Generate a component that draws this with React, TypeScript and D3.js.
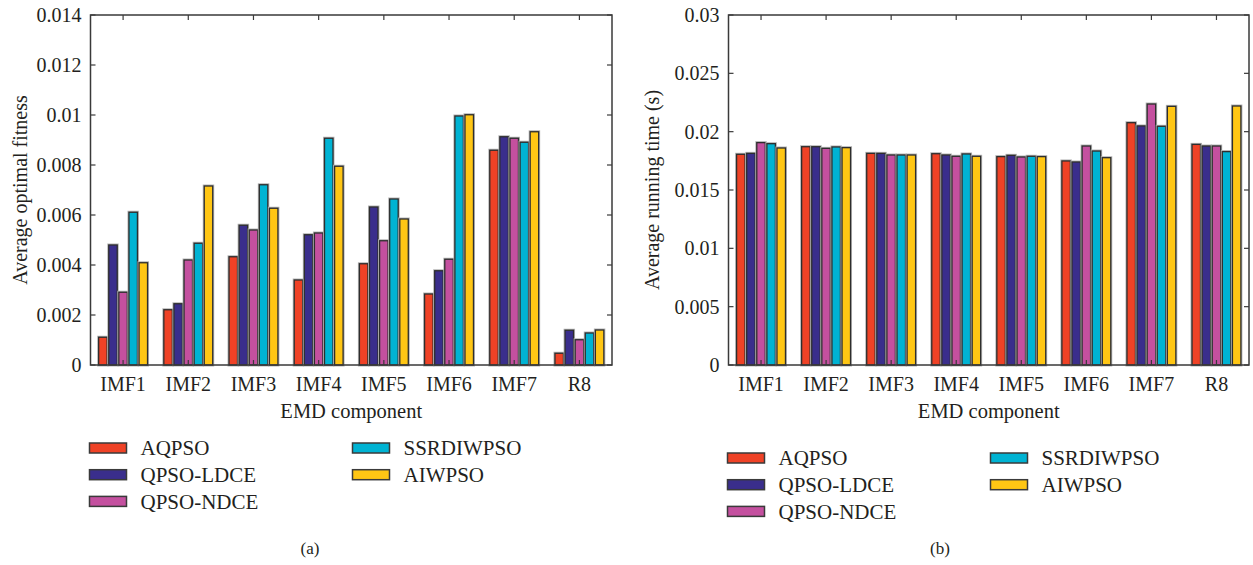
import React from 'react';
import * as d3 from 'd3';

const categories = ['IMF1', 'IMF2', 'IMF3', 'IMF4', 'IMF5', 'IMF6', 'IMF7', 'R8'];
const seriesNames = ['AQPSO', 'QPSO-LDCE', 'QPSO-NDCE', 'SSRDIWPSO', 'AIWPSO'];
const seriesColors = ['#EF4226', '#3A2E8C', '#C4509F', '#00B3D3', '#FFC614'];

// (a) Average optimal fitness
const fitnessAQPSO = [0.00111, 0.00221, 0.00433, 0.0034, 0.00405, 0.00284, 0.00859, 0.00047];
const fitnessLDCE = [0.0048, 0.00245, 0.00559, 0.00521, 0.00632, 0.00377, 0.00913, 0.00139];
const fitnessNDCE = [0.00291, 0.0042, 0.0054, 0.00528, 0.00497, 0.00423, 0.00907, 0.00101];
const fitnessSSRDIW = [0.00611, 0.00487, 0.00721, 0.00907, 0.00664, 0.00996, 0.00891, 0.00128];
const fitnessAIW = [0.00409, 0.00716, 0.00627, 0.00795, 0.00584, 0.01001, 0.00933, 0.0014];
const fitnessTicks = [0, 0.002, 0.004, 0.006, 0.008, 0.01, 0.012, 0.014];
const fitnessTickLabels = ['0', '0.002', '0.004', '0.006', '0.008', '0.01', '0.012', '0.014'];

// (b) Average running time
const timeAQPSO = [0.01806, 0.01871, 0.01814, 0.01811, 0.01786, 0.01749, 0.02077, 0.01891];
const timeLDCE = [0.01814, 0.01871, 0.01814, 0.018, 0.01797, 0.0174, 0.02049, 0.01877];
const timeNDCE = [0.01906, 0.01857, 0.018, 0.01789, 0.01783, 0.01877, 0.02237, 0.01877];
const timeSSRDIW = [0.01897, 0.01869, 0.018, 0.01809, 0.01789, 0.01834, 0.02046, 0.01829];
const timeAIW = [0.0186, 0.01863, 0.018, 0.01789, 0.01786, 0.01777, 0.02217, 0.0222];
const timeTicks = [0, 0.005, 0.01, 0.015, 0.02, 0.025, 0.03];
const timeTickLabels = ['0', '0.005', '0.01', '0.015', '0.02', '0.025', '0.03'];

const FONT = '"Liberation Serif", "Times New Roman", serif';
const TXT = '#231F20';

type PanelProps = {
  left: number;
  right: number;
  yMax: number;
  data: number[][];
  ticks: number[];
  tickLabels: string[];
  yLabel: string;
  yLabelX: number;
  legendY: number;
  caption: string;
  captionX: number;
};

function Panel(p: PanelProps) {
  const top = 15;
  const bottom = 365;
  const x0 = d3.scaleBand<string>().domain(categories).range([p.left, p.right]).padding(0);
  const bw = x0.bandwidth();
  const inner = 50.5;
  const x1 = d3
    .scaleBand<string>()
    .domain(seriesNames)
    .range([(bw - inner) / 2, (bw + inner) / 2])
    .paddingInner(0.16)
    .paddingOuter(0.08);
  const y = d3.scaleLinear().domain([0, p.yMax]).range([bottom, top]);
  const tl = 5;
  const midX = (p.left + p.right) / 2;
  const legCol2 = p.left + 262;
  const rows = [0, 1, 2];

  return (
    <g>
      {categories.map((c, ci) => (
        <g key={c} transform={`translate(${x0(c)},0)`}>
          {seriesNames.map((s, si) => {
            const v = p.data[si][ci];
            const bx = x1(s)!;
            const by = y(v);
            const h = y(0) - by;
            return (
              <g key={s}>
                <rect x={bx} y={by} width={x1.bandwidth()} height={h} fill="none" stroke="#B5B5B5" strokeWidth={3} />
                <rect x={bx} y={by} width={x1.bandwidth()} height={h} fill={seriesColors[si]} stroke="#2E2E2E" strokeWidth={1.3} />
              </g>
            );
          })}
        </g>
      ))}
      {/* frame */}
      <rect x={p.left} y={top} width={p.right - p.left} height={bottom - top} fill="none" stroke="#3A3A3A" strokeWidth={1.5} />
      {/* y ticks */}
      {p.ticks.map((t, i) => (
        <g key={'yt' + i}>
          <line x1={p.left} x2={p.left + tl} y1={y(t)} y2={y(t)} stroke="#3A3A3A" strokeWidth={1.2} />
          <line x1={p.right} x2={p.right - tl} y1={y(t)} y2={y(t)} stroke="#3A3A3A" strokeWidth={1.2} />
          <text x={p.left - 9} y={y(t)} dy="0.35em" textAnchor="end" fontFamily={FONT} fontSize={20} fill={TXT}>
            {p.tickLabels[i]}
          </text>
        </g>
      ))}
      {/* x ticks */}
      {categories.map((c) => {
        const cx = x0(c)! + bw / 2;
        return (
          <g key={'xt' + c}>
            <line x1={cx} x2={cx} y1={bottom} y2={bottom - tl} stroke="#3A3A3A" strokeWidth={1.2} />
            <line x1={cx} x2={cx} y1={top} y2={top + tl} stroke="#3A3A3A" strokeWidth={1.2} />
            <text x={cx} y={384} dy="0.35em" textAnchor="middle" fontFamily={FONT} fontSize={20} fill={TXT}>
              {c}
            </text>
          </g>
        );
      })}
      <text x={midX} y={411} dy="0.35em" textAnchor="middle" fontFamily={FONT} fontSize={20.5} fill={TXT}>
        EMD component
      </text>
      <text
        transform={`translate(${p.yLabelX},${(top + bottom) / 2}) rotate(-90)`}
        textAnchor="middle"
        dy="0.35em"
        fontFamily={FONT}
        fontSize={20}
        fill={TXT}
      >
        {p.yLabel}
      </text>
      {/* legend */}
      {seriesNames.map((s, si) => {
        const col = si < 3 ? 0 : 1;
        const row = si < 3 ? rows[si] : rows[si - 3];
        const lx = col === 0 ? p.left - 1 : legCol2;
        const ly = p.legendY + row * 26.7;
        return (
          <g key={'lg' + s}>
            <rect x={lx} y={ly - 5} width={37} height={10} fill={seriesColors[si]} stroke="#3A3A3A" strokeWidth={1.5} />
            <text x={lx + 51} y={ly} dy="0.35em" fontFamily={FONT} fontSize={21} fill={TXT}>
              {s}
            </text>
          </g>
        );
      })}
      <text x={p.captionX} y={548} dy="0.35em" textAnchor="middle" fontFamily={FONT} fontSize={17} fill={TXT}>
        {p.caption}
      </text>
    </g>
  );
}

export default function App() {
  const fitness = [fitnessAQPSO, fitnessLDCE, fitnessNDCE, fitnessSSRDIW, fitnessAIW];
  const time = [timeAQPSO, timeLDCE, timeNDCE, timeSSRDIW, timeAIW];
  return (
    <svg
      width={1253}
      height={565}
      style={{ position: 'absolute', left: 0, top: 0, background: '#fff' }}
    >
      <rect x={0} y={0} width={1253} height={565} fill="#fff" />
      <Panel
        left={90.5}
        right={612}
        yMax={0.014}
        data={fitness}
        ticks={fitnessTicks}
        tickLabels={fitnessTickLabels}
        yLabel="Average optimal fitness"
        yLabelX={20}
        legendY={448}
        caption="(a)"
        captionX={310}
      />
      <Panel
        left={728.5}
        right={1249}
        yMax={0.03}
        data={time}
        ticks={timeTicks}
        tickLabels={timeTickLabels}
        yLabel="Average running time (s)"
        yLabelX={652}
        legendY={458}
        caption="(b)"
        captionX={940}
      />
    </svg>
  );
}
